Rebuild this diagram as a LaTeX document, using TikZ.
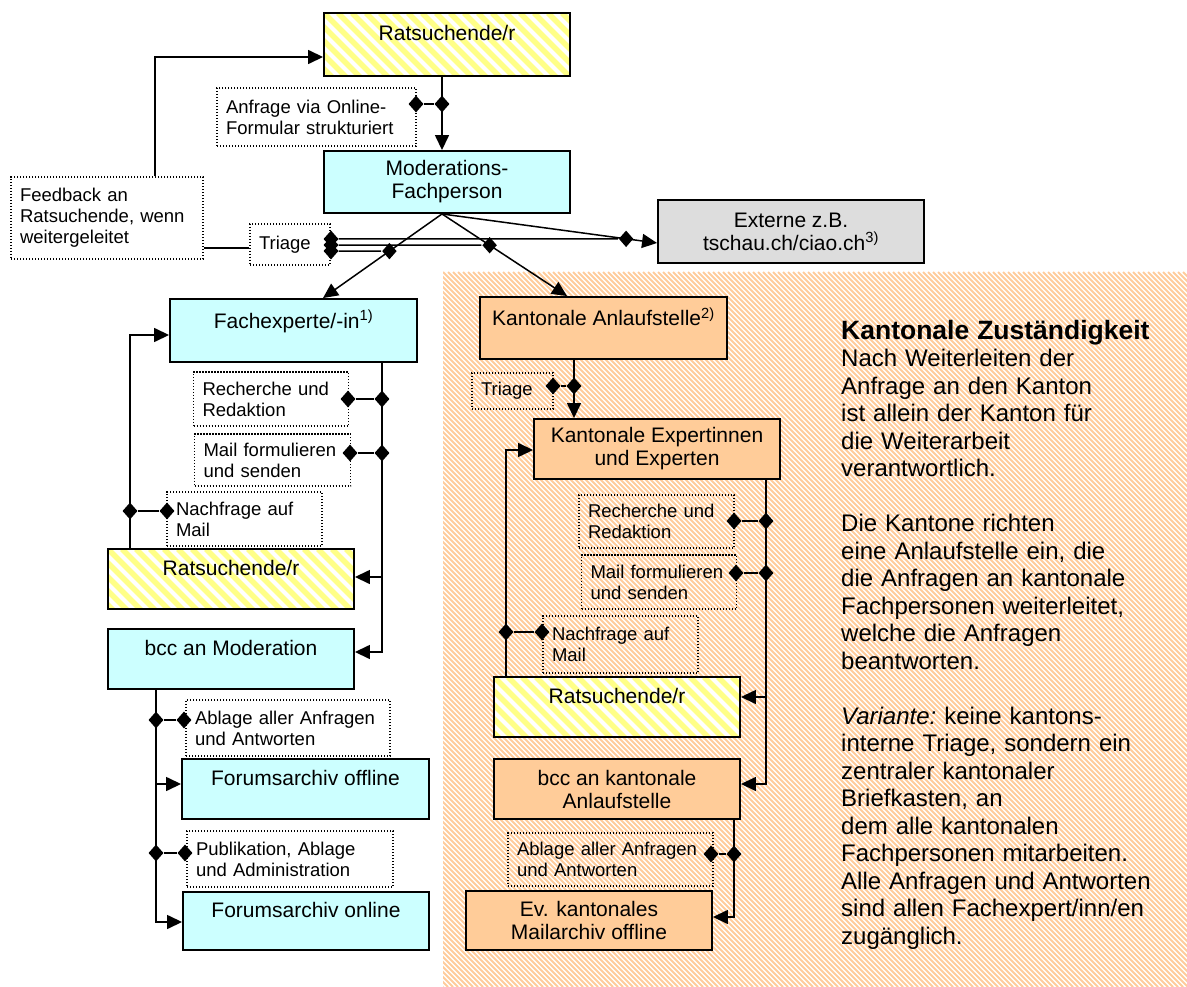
\documentclass[tikz,border=0pt]{standalone}
\usepackage{fontspec}
\setmainfont{Liberation Sans}
\usetikzlibrary{arrows.meta,shapes.geometric,calc}
\definecolor{cyanbox}{HTML}{CCFFFF}
\definecolor{orangebox}{HTML}{FFCC99}
\definecolor{graybox}{HTML}{DDDDDD}
\definecolor{hyellow}{HTML}{FFFF88}
\definecolor{horange}{HTML}{FFCC9C}
\tikzset{
  boxbase/.style={draw, line width=1.9pt, align=center, inner sep=0pt, font=\fontsize{21}{23}\selectfont},
  cyanb/.style={boxbase, fill=cyanbox},
  orangeb/.style={boxbase, fill=orangebox},
  grayb/.style={boxbase, fill=graybox},
  yellowb/.style={boxbase, fill=white, path picture={
      \foreach \k in {0,...,26}
        \draw[hyellow, line width=5.5pt] ([xshift={\k*14pt-84pt}]path picture bounding box.north west) -- ++(120pt,-120pt);}},
  note/.style={draw, line width=1.1pt, dash pattern=on 1.1pt off 1.9pt, align=left, inner xsep=9pt, inner ysep=0pt, font=\fontsize{18.5}{21}\selectfont},
  dia/.style={diamond, fill=black, inner sep=0pt, minimum width=15pt, minimum height=17pt},
  conn/.style={line width=1.5pt},
  arr/.style={conn, -{Triangle[length=15pt,width=14pt]}},
  panel/.style={inner sep=0pt, align=left, font=\fontsize{24}{27.5}\selectfont},
}
\begin{document}
\begin{tikzpicture}[x=1pt,y=-1pt]
\useasboundingbox (0,0) rectangle (1187,987);
% hatched background of the cantonal area
\begin{scope}
  \clip (443,272) rectangle (1187,987);
  \foreach \k in {0,...,292}
    \draw[horange, line width=2.1pt] ({-272+5*\k},272) -- ++(715,715);
\end{scope}

% main boxes
\node[yellowb, minimum width=246pt, minimum height=63pt] (R1) at (447,44.5) {Ratsuchende/r\\\mbox{}};
\node[cyanb, minimum width=246pt, minimum height=62pt] (M) at (447,182) {Moderations-\\Fachperson};
\node[grayb, minimum width=266pt, minimum height=63pt] (E) at (791,231.5) {Externe z.B.\\tschau.ch/ciao.ch\textsuperscript{3)}};
\node[cyanb, minimum width=247pt, minimum height=63pt] (FE) at (293.5,330.5) {Fachexperte/-in\textsuperscript{1)}\\\mbox{}};
\node[orangeb, minimum width=247pt, minimum height=62pt] (KA) at (603.5,328) {Kantonale Anlaufstelle\textsuperscript{2)}\\\mbox{}};
\node[orangeb, minimum width=246pt, minimum height=60pt] (KE) at (657,449) {Kantonale Expertinnen\\und Experten};
\node[yellowb, minimum width=246pt, minimum height=60pt] (R2) at (231,579) {Ratsuchende/r\\\mbox{}};
\node[cyanb, minimum width=246pt, minimum height=60pt] (B1) at (231,659) {bcc an Moderation\\\mbox{}};
\node[cyanb, minimum width=247pt, minimum height=60pt] (FO) at (305.5,789) {Forumsarchiv offline\\\mbox{}};
\node[cyanb, minimum width=246pt, minimum height=58pt] (FN) at (306,921) {Forumsarchiv online\\\mbox{}};
\node[yellowb, minimum width=246pt, minimum height=60pt] (R3) at (617,707) {Ratsuchende/r\\\mbox{}};
\node[orangeb, minimum width=246pt, minimum height=60pt] (B2) at (617,789) {bcc an kantonale\\Anlaufstelle};
\node[orangeb, minimum width=246pt, minimum height=59pt] (EV) at (589,920.5) {Ev. kantonales\\Mailarchiv offline};

% dotted notes
\node[note, text width=181pt, minimum height=58pt] (A1) at (316.5,117) {Anfrage via Online-\\Formular strukturiert};
\node[note, text width=174pt, minimum height=82pt] (F) at (107,218) {Feedback an\\Ratsuchende, wenn\\weitergeleitet};
\node[note, text width=62pt, minimum height=41pt] (T) at (290,244.5) {Triage};
\node[note, text width=63pt, minimum height=36pt] (T2) at (512.5,391) {Triage};
\node[note, text width=137pt, minimum height=54pt] (N1) at (271,399) {Recherche und\\Redaktion};
\node[note, text width=138pt, minimum height=52pt] (N2) at (272.5,460) {Mail formulieren\\und senden};
\node[note, text width=137pt, minimum height=54pt] (N3) at (244.5,519) {Nachfrage auf\\Mail};
\node[note, text width=186pt, minimum height=56pt] (N4) at (288,728) {Ablage aller Anfragen\\und Antworten};
\node[note, text width=188pt, minimum height=56pt] (N5) at (290,859) {Publikation, Ablage\\und Administration};
\node[note, text width=137pt, minimum height=53pt] (N6) at (656.5,521.5) {Recherche und\\Redaktion};
\node[note, text width=137pt, minimum height=54pt] (N7) at (659,582) {Mail formulieren\\und senden};
\node[note, text width=137pt, minimum height=57pt] (N8) at (620.5,644.5) {Nachfrage auf\\Mail};
\node[note, text width=187pt, minimum height=53pt] (N9) at (610.5,859.5) {Ablage aller Anfragen\\und Antworten};

% explanatory text
\node[panel, anchor=north west, text width=340pt] (P) at (841,320) {%
{\fontsize{26.5}{27.5}\selectfont\bfseries Kantonale Zuständigkeit}\\
Nach Weiterleiten der\\
Anfrage an den Kanton\\
ist allein der Kanton für\\
die Weiterarbeit\\
verantwortlich.\\[27.5pt]
Die Kantone richten\\
eine Anlaufstelle ein, die\\
die Anfragen an kantonale\\
Fachpersonen weiterleitet,\\
welche die Anfragen\\
beantworten.\\[27.5pt]
{\itshape Variante:}~keine kantons-\\
interne Triage, sondern ein\\
zentraler kantonaler\\
Briefkasten, an\\
dem alle kantonalen\\
Fachpersonen mitarbeiten.\\
Alle Anfragen und Antworten\\
sind allen Fachexpert/inn/en\\
zugänglich.};

% helper coordinates
\coordinate (fb) at (155,57);
\coordinate (ft) at (0,248);
\coordinate (et) at (0,243);
\coordinate (fet) at (323,0);
\coordinate (kat) at (567,0);
\coordinate (kx) at (574,0);
\coordinate (kl) at (506,450);
\coordinate (kr) at (766,784);
\coordinate (kr2) at (766,697);
\coordinate (bv) at (734,917);
\coordinate (fr) at (382,652);
\coordinate (fr2) at (382,577);
\coordinate (fl) at (130,335);
\coordinate (bl) at (156,922);
\coordinate (bl2) at (156,784);

% diamonds
\node[dia] (d1) at (442,104) {};
\node[dia] (d1b) at (416,104) {};
\node[dia] (dT1) at (331,239) {};
\node[dia] (dT2) at (331,245) {};
\node[dia] (dT3) at (331,251) {};
\node[dia] (dka1) at (574,386) {};
\node[dia] (dka2) at (553,386) {};
\node[dia] (dke1) at (506,632) {};
\node[dia] (dke2) at (542,632) {};
\node[dia] (dkr1) at (766,521) {};
\node[dia] (dkr2) at (734,521) {};
\node[dia] (dkr3) at (766,573) {};
\node[dia] (dkr4) at (736,573) {};
\node[dia] (dbv1) at (734,854) {};
\node[dia] (dbv2) at (711,854) {};
\node[dia] (dfr1) at (382,399) {};
\node[dia] (dfr2) at (348,399) {};
\node[dia] (dfr3) at (382,453) {};
\node[dia] (dfr4) at (350,453) {};
\node[dia] (dfl1) at (130,511) {};
\node[dia] (dfl2) at (167,511) {};
\node[dia] (dbl1) at (156,720) {};
\node[dia] (dbl2) at (184,720) {};
\node[dia] (dbl3) at (156,853) {};
\node[dia] (dbl4) at (185,853) {};

% connectors top
\draw[arr] (R1.south -| d1) -- (M.north -| d1);
\draw[conn] (d1b) -- (d1);
\draw[arr] (F.north -| fb) -- (fb) -- (R1.west |- fb);
\draw[conn] (F.east |- ft) -- (T.west |- ft);
\draw[arr] (M.south -| d1) -- node[dia, pos=0.856] (dE) {} (E.west |- et);
\draw[arr] (M.south -| d1) -- node[dia, pos=0.442] (dF) {} (FE.north -| fet);
\draw[arr] (M.south -| d1) -- node[dia, pos=0.381] (dK) {} (KA.north -| kat);
\draw[conn] (dT1) -- (dE);
\draw[conn] (dT2) -- (dK);
\draw[conn] (dT3) -- (dF);

% cantonal branch
\draw[arr] (KA.south -| kx) -- (KE.north -| kx);
\draw[conn] (dka2) -- (dka1);
\draw[arr] (R3.north -| kl) -- (kl) -- (KE.west |- kl);
\draw[conn] (dke1) -- (dke2);
\draw[arr] (KE.south -| kr) -- (kr) -- (B2.east |- kr);
\draw[arr] (kr2) -- (R3.east |- kr2);
\draw[conn] (dkr2) -- (dkr1);
\draw[conn] (dkr4) -- (dkr3);
\draw[arr] (B2.south -| bv) -- (bv) -- (EV.east |- bv);
\draw[conn] (dbv2) -- (dbv1);

% expert branch
\draw[arr] (FE.south -| fr) -- (fr) -- (B1.east |- fr);
\draw[arr] (fr2) -- (R2.east |- fr2);
\draw[conn] (dfr2) -- (dfr1);
\draw[conn] (dfr4) -- (dfr3);
\draw[arr] (R2.north -| fl) -- (fl) -- (FE.west |- fl);
\draw[conn] (dfl1) -- (dfl2);
\draw[arr] (B1.south -| bl) -- (bl) -- (FN.west |- bl);
\draw[arr] (bl2) -- (FO.west |- bl2);
\draw[conn] (dbl1) -- (dbl2);
\draw[conn] (dbl3) -- (dbl4);
\end{tikzpicture}
\end{document}
